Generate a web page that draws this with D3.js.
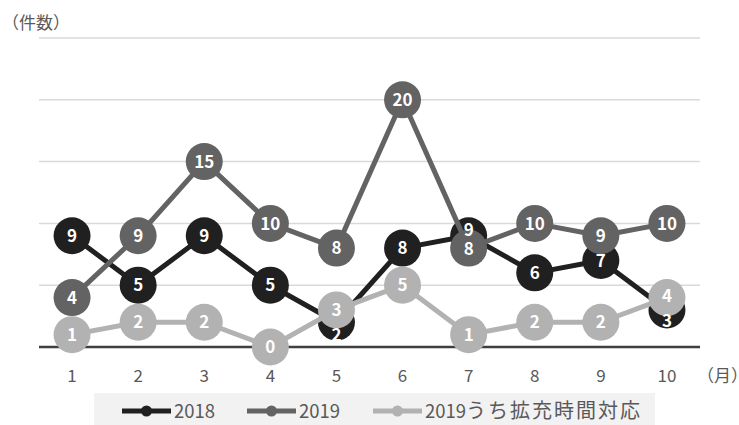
<!DOCTYPE html>
<html>
<head>
<meta charset="utf-8">
<script src="https://cdn.jsdelivr.net/npm/d3@7"></script>
<style>
  body { margin: 0; background: #fff; }
  svg { display: block; font-family: "Noto Sans CJK JP", "Noto Sans", sans-serif; }
</style>
</head>
<body>
<div id="chart"></div>
<script>
// data
const months = ["1", "2", "3", "4", "5", "6", "7", "8", "9", "10"];
const seriesNames = ["2018", "2019", "2019うち拡充時間対応"];
const values2018 = [9, 5, 9, 5, 2, 8, 9, 6, 7, 3];
const values2019 = [4, 9, 15, 10, 8, 20, 8, 10, 9, 10];
const valuesExtended = [1, 2, 2, 0, 3, 5, 1, 2, 2, 4];
const yTicks = [0, 5, 10, 15, 20, 25];

const colors = ["#202020", "#636363", "#b2b2b2"];
// label nudges where markers overlap (series index - month index) -> dy
const labelNudge = { "0-4": 13, "0-6": -6, "1-6": 1, "0-9": 11, "2-9": -2 };

const width = 739, height = 425;
const margin = { top: 38, right: 39, bottom: 78, left: 39 };

const svg = d3.select("#chart").append("svg")
  .attr("width", width)
  .attr("height", height);

const x = d3.scalePoint()
  .domain(months)
  .range([margin.left, width - margin.right])
  .padding(0.5);

const y = d3.scaleLinear()
  .domain([0, 25])
  .range([height - margin.bottom, margin.top]);

// gridlines
svg.append("g")
  .selectAll("line")
  .data(yTicks.filter(d => d > 0))
  .join("line")
  .attr("x1", margin.left)
  .attr("x2", width - margin.right)
  .attr("y1", d => y(d))
  .attr("y2", d => y(d))
  .attr("stroke", "#d9d9d9")
  .attr("stroke-width", 1.5);

// baseline
svg.append("line")
  .attr("x1", margin.left)
  .attr("x2", width - margin.right)
  .attr("y1", y(0))
  .attr("y2", y(0))
  .attr("stroke", "#3f3f3f")
  .attr("stroke-width", 2.5);

// x axis labels
svg.append("g")
  .selectAll("text")
  .data(months)
  .join("text")
  .attr("x", d => x(d))
  .attr("y", 382)
  .attr("text-anchor", "middle")
  .attr("fill", "#595959")
  .style("font-size", "17px")
  .text(d => d);

svg.append("text")
  .attr("x", 697)
  .attr("y", 382)
  .attr("fill", "#595959")
  .style("font-size", "17px")
  .text("（月）");

svg.append("text")
  .attr("x", 2)
  .attr("y", 29)
  .attr("fill", "#595959")
  .style("font-size", "17px")
  .text("（件数）");

const series = [values2018, values2019, valuesExtended].map((vals, i) => ({
  name: seriesNames[i],
  color: colors[i],
  index: i,
  points: vals.map((v, j) => ({ month: months[j], value: v, j }))
}));

const line = d3.line()
  .x(d => x(d.month))
  .y(d => y(d.value));

const r = 18.5;

series.forEach(s => {
  const g = svg.append("g");
  g.append("path")
    .datum(s.points)
    .attr("fill", "none")
    .attr("stroke", s.color)
    .attr("stroke-width", 5)
    .attr("stroke-linejoin", "round")
    .attr("d", line);
  g.selectAll("circle")
    .data(s.points)
    .join("circle")
    .attr("cx", d => x(d.month))
    .attr("cy", d => y(d.value))
    .attr("r", r)
    .attr("fill", s.color);
});

// data labels on top
series.forEach(s => {
  svg.append("g")
    .selectAll("text")
    .data(s.points)
    .join("text")
    .attr("x", d => x(d.month))
    .attr("y", d => y(d.value) + (labelNudge[s.index + "-" + d.j] || 0))
    .attr("dy", "0.36em")
    .attr("text-anchor", "middle")
    .attr("fill", "#fff")
    .attr("font-weight", "bold")
    .style("font-size", "17px")
    .text(d => d.value);
});

// legend
const legend = svg.append("g");
legend.append("rect")
  .attr("x", 94)
  .attr("y", 393)
  .attr("width", 561)
  .attr("height", 32)
  .attr("fill", "#f2f2f2");

const legendX = [122, 247, 373];
series.forEach((s, i) => {
  const lg = legend.append("g").attr("transform", `translate(${legendX[i]},411)`);
  lg.append("line")
    .attr("x1", 0).attr("x2", 49)
    .attr("stroke", s.color)
    .attr("stroke-width", 5);
  lg.append("circle")
    .attr("cx", 24.5).attr("r", 5.5)
    .attr("fill", s.color);
  const t = lg.append("text")
    .attr("x", 52)
    .attr("dy", "0.38em")
    .attr("fill", "#595959")
    .style("font-size", "18.5px");
  const m = s.name.match(/^(\d+)(.*)$/);
  t.append("tspan").text(m[1]);
  if (m[2]) {
    t.append("tspan")
      .style("font-size", "20px")
      .style("letter-spacing", "2px")
      .text(m[2]);
  }
});
</script>
</body>
</html>
